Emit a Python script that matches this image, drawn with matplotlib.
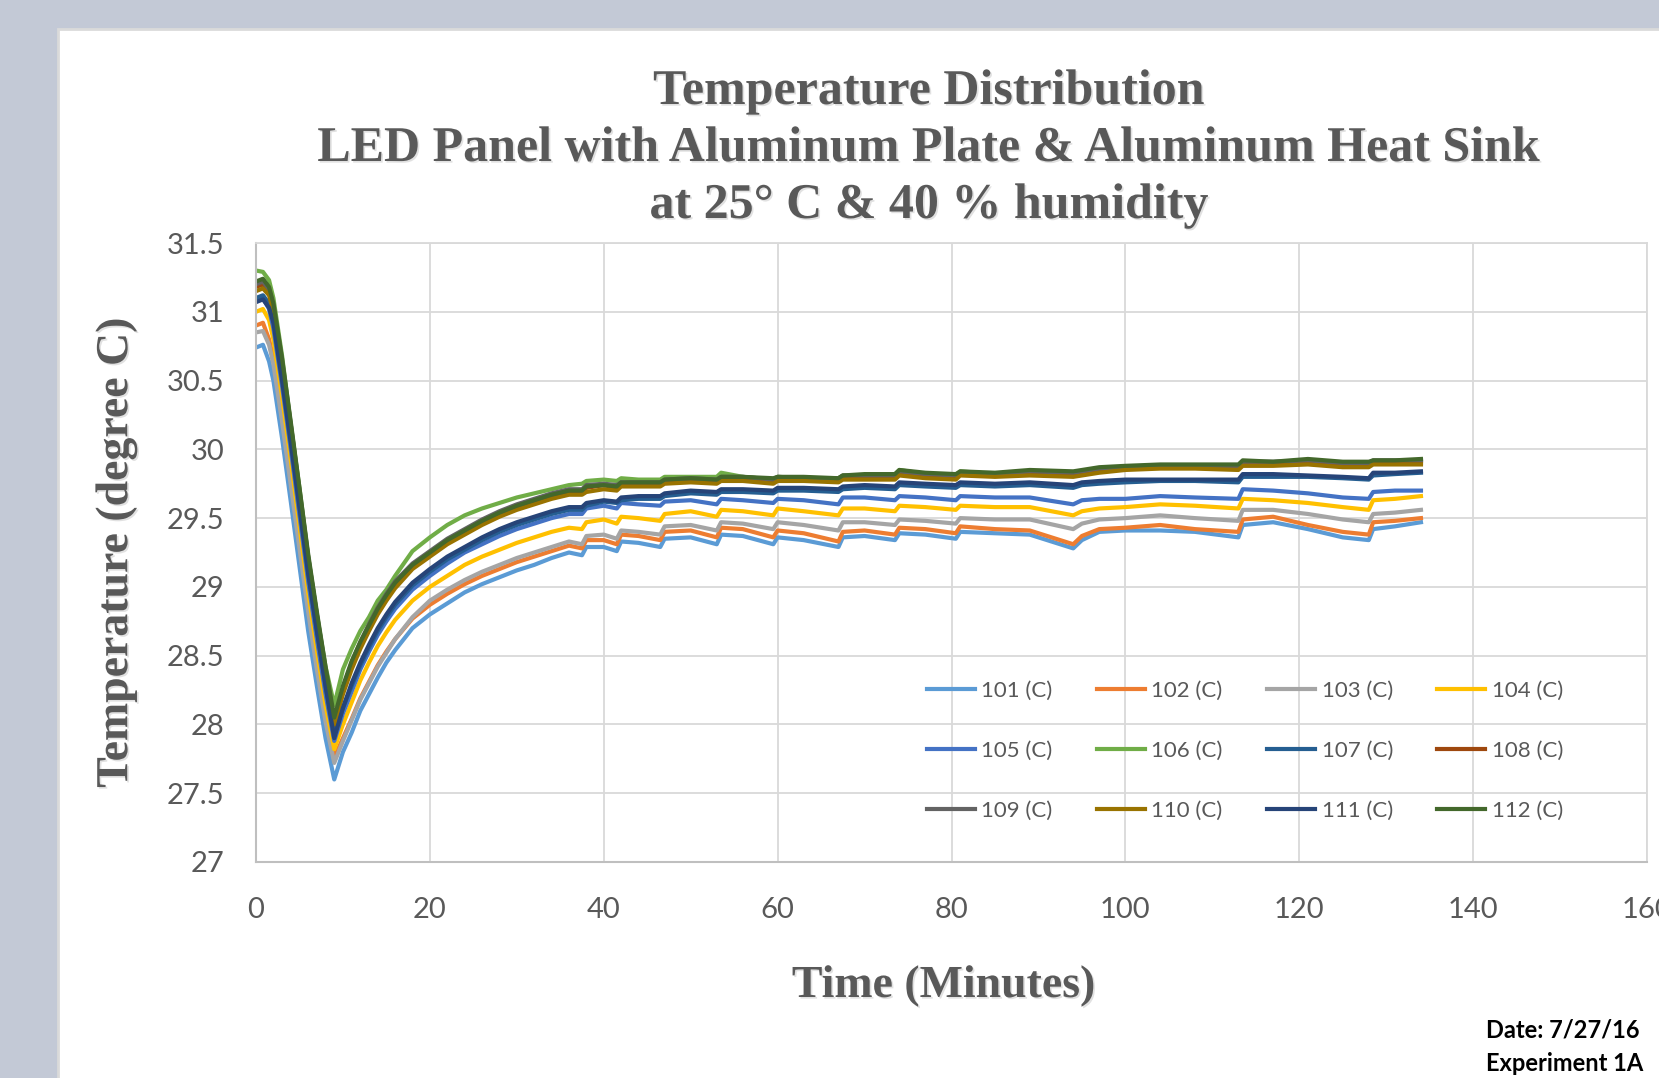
import matplotlib
matplotlib.use('Agg')
import matplotlib.pyplot as plt
from matplotlib.patches import Rectangle
import matplotlib.patheffects as pe

minutes = [0, 0.8, 1.5, 2, 3, 4, 5, 6, 7, 8,
           9, 10, 11, 12, 13, 14, 15, 16, 18, 20,
           22, 24, 26, 28, 30, 32, 34, 36, 37.5, 38,
           40, 41.5, 42, 44, 46.5, 47, 50, 53, 53.5, 56,
           59.5, 60, 63, 67, 67.5, 70, 73.5, 74, 77, 80.5,
           81, 85, 89, 94, 95, 97, 100, 104, 108, 113,
           113.5, 117, 121, 125, 128, 128.5, 131, 134]

s101 = [30.74, 30.76, 30.64, 30.50, 30.08, 29.62, 29.15, 28.68, 28.28, 27.90,
        27.60, 27.80, 27.94, 28.10, 28.22, 28.34, 28.45, 28.54, 28.70, 28.80,
        28.88, 28.96, 29.02, 29.07, 29.12, 29.16, 29.21, 29.25, 29.23, 29.29,
        29.29, 29.26, 29.33, 29.32, 29.29, 29.35, 29.36, 29.31, 29.38, 29.37,
        29.31, 29.36, 29.34, 29.29, 29.36, 29.37, 29.34, 29.39, 29.38, 29.35,
        29.40, 29.39, 29.38, 29.28, 29.34, 29.40, 29.41, 29.41, 29.40, 29.36,
        29.45, 29.47, 29.42, 29.36, 29.34, 29.42, 29.44, 29.47]
s102 = [30.90, 30.92, 30.80, 30.66, 30.24, 29.78, 29.32, 28.85, 28.44, 28.06,
        27.76, 27.90, 28.04, 28.19, 28.31, 28.43, 28.53, 28.62, 28.77, 28.87,
        28.95, 29.02, 29.08, 29.13, 29.18, 29.22, 29.26, 29.30, 29.28, 29.34,
        29.34, 29.31, 29.38, 29.37, 29.34, 29.40, 29.41, 29.36, 29.43, 29.42,
        29.36, 29.41, 29.39, 29.33, 29.40, 29.41, 29.38, 29.43, 29.42, 29.39,
        29.44, 29.42, 29.41, 29.31, 29.37, 29.42, 29.43, 29.45, 29.42, 29.40,
        29.49, 29.51, 29.45, 29.40, 29.38, 29.47, 29.48, 29.50]
s103 = [30.85, 30.86, 30.76, 30.62, 30.20, 29.74, 29.28, 28.82, 28.40, 28.02,
        27.72, 27.88, 28.03, 28.18, 28.30, 28.42, 28.52, 28.62, 28.78, 28.90,
        28.98, 29.05, 29.11, 29.16, 29.21, 29.25, 29.29, 29.33, 29.31, 29.37,
        29.38, 29.35, 29.41, 29.40, 29.38, 29.44, 29.45, 29.41, 29.47, 29.46,
        29.42, 29.47, 29.45, 29.41, 29.47, 29.47, 29.45, 29.49, 29.48, 29.46,
        29.50, 29.49, 29.49, 29.42, 29.46, 29.49, 29.50, 29.52, 29.50, 29.48,
        29.56, 29.56, 29.53, 29.49, 29.47, 29.53, 29.54, 29.56]
s104 = [31.00, 31.02, 30.94, 30.80, 30.38, 29.92, 29.44, 28.96, 28.54, 28.14,
        27.82, 28.00, 28.16, 28.32, 28.45, 28.57, 28.67, 28.76, 28.90, 29.00,
        29.08, 29.16, 29.22, 29.27, 29.32, 29.36, 29.40, 29.43, 29.42, 29.47,
        29.49, 29.46, 29.51, 29.50, 29.48, 29.53, 29.55, 29.51, 29.56, 29.55,
        29.52, 29.57, 29.55, 29.52, 29.57, 29.57, 29.55, 29.59, 29.58, 29.56,
        29.59, 29.58, 29.58, 29.52, 29.55, 29.57, 29.58, 29.60, 29.59, 29.57,
        29.64, 29.63, 29.61, 29.58, 29.56, 29.63, 29.64, 29.66]
s105 = [31.08, 31.10, 31.02, 30.88, 30.46, 30.00, 29.52, 29.04, 28.62, 28.22,
        27.88, 28.08, 28.24, 28.40, 28.53, 28.65, 28.75, 28.84, 28.98, 29.08,
        29.17, 29.25, 29.31, 29.37, 29.42, 29.46, 29.50, 29.53, 29.53, 29.57,
        29.59, 29.57, 29.61, 29.60, 29.59, 29.62, 29.63, 29.60, 29.64, 29.63,
        29.61, 29.64, 29.63, 29.60, 29.65, 29.65, 29.63, 29.66, 29.65, 29.63,
        29.66, 29.65, 29.65, 29.60, 29.63, 29.64, 29.64, 29.66, 29.65, 29.64,
        29.71, 29.70, 29.68, 29.65, 29.64, 29.69, 29.70, 29.70]
s106 = [31.30, 31.29, 31.23, 31.10, 30.68, 30.18, 29.72, 29.22, 28.80, 28.42,
        28.14, 28.40, 28.55, 28.68, 28.78, 28.90, 28.98, 29.08, 29.26, 29.36,
        29.45, 29.52, 29.57, 29.61, 29.65, 29.68, 29.71, 29.74, 29.75, 29.77,
        29.78, 29.77, 29.79, 29.78, 29.78, 29.80, 29.80, 29.80, 29.83, 29.80,
        29.78, 29.80, 29.79, 29.79, 29.81, 29.80, 29.82, 29.85, 29.82, 29.81,
        29.84, 29.82, 29.84, 29.83, 29.84, 29.85, 29.87, 29.88, 29.88, 29.88,
        29.90, 29.90, 29.91, 29.89, 29.89, 29.91, 29.91, 29.92]
s107 = [31.10, 31.12, 31.06, 30.94, 30.52, 30.06, 29.58, 29.10, 28.68, 28.28,
        27.93, 28.12, 28.28, 28.43, 28.56, 28.68, 28.78, 28.87, 29.01, 29.11,
        29.20, 29.27, 29.34, 29.40, 29.45, 29.49, 29.53, 29.56, 29.56, 29.59,
        29.62, 29.61, 29.63, 29.64, 29.64, 29.66, 29.68, 29.67, 29.69, 29.69,
        29.68, 29.70, 29.70, 29.69, 29.71, 29.72, 29.71, 29.74, 29.73, 29.72,
        29.74, 29.73, 29.74, 29.72, 29.74, 29.75, 29.76, 29.77, 29.77, 29.76,
        29.80, 29.80, 29.80, 29.79, 29.78, 29.81, 29.82, 29.83]
s108 = [31.18, 31.20, 31.14, 31.03, 30.62, 30.16, 29.68, 29.20, 28.78, 28.38,
        28.00, 28.24, 28.42, 28.57, 28.70, 28.82, 28.92, 29.01, 29.15, 29.24,
        29.33, 29.40, 29.47, 29.53, 29.58, 29.62, 29.66, 29.69, 29.69, 29.72,
        29.74, 29.72, 29.75, 29.75, 29.75, 29.77, 29.78, 29.77, 29.79, 29.79,
        29.77, 29.79, 29.78, 29.78, 29.80, 29.80, 29.80, 29.83, 29.81, 29.80,
        29.82, 29.81, 29.83, 29.82, 29.83, 29.85, 29.86, 29.87, 29.87, 29.86,
        29.89, 29.89, 29.90, 29.88, 29.88, 29.90, 29.90, 29.90]
s109 = [31.20, 31.22, 31.16, 31.05, 30.64, 30.18, 29.70, 29.22, 28.80, 28.40,
        28.02, 28.26, 28.45, 28.60, 28.73, 28.85, 28.95, 29.04, 29.17, 29.26,
        29.35, 29.42, 29.49, 29.55, 29.60, 29.64, 29.68, 29.71, 29.71, 29.74,
        29.75, 29.74, 29.76, 29.76, 29.76, 29.78, 29.79, 29.78, 29.80, 29.80,
        29.78, 29.80, 29.79, 29.79, 29.81, 29.81, 29.81, 29.84, 29.82, 29.81,
        29.83, 29.82, 29.84, 29.83, 29.84, 29.86, 29.87, 29.88, 29.88, 29.88,
        29.91, 29.91, 29.92, 29.90, 29.90, 29.92, 29.92, 29.92]
s110 = [31.15, 31.17, 31.12, 31.00, 30.60, 30.14, 29.66, 29.18, 28.76, 28.36,
        28.00, 28.22, 28.40, 28.55, 28.68, 28.80, 28.90, 28.99, 29.13, 29.22,
        29.31, 29.38, 29.45, 29.51, 29.56, 29.60, 29.64, 29.67, 29.67, 29.69,
        29.71, 29.70, 29.73, 29.73, 29.73, 29.75, 29.76, 29.75, 29.77, 29.77,
        29.75, 29.77, 29.77, 29.76, 29.78, 29.78, 29.78, 29.81, 29.79, 29.78,
        29.81, 29.80, 29.81, 29.80, 29.81, 29.83, 29.85, 29.86, 29.86, 29.85,
        29.88, 29.88, 29.89, 29.87, 29.87, 29.89, 29.89, 29.89]
s111 = [31.07, 31.09, 31.03, 30.92, 30.50, 30.05, 29.58, 29.10, 28.68, 28.28,
        27.90, 28.12, 28.30, 28.45, 28.58, 28.70, 28.80, 28.89, 29.03, 29.13,
        29.22, 29.29, 29.36, 29.42, 29.47, 29.51, 29.55, 29.58, 29.58, 29.61,
        29.63, 29.62, 29.65, 29.66, 29.66, 29.68, 29.70, 29.69, 29.71, 29.71,
        29.70, 29.72, 29.72, 29.71, 29.73, 29.74, 29.73, 29.76, 29.75, 29.74,
        29.76, 29.75, 29.76, 29.74, 29.76, 29.77, 29.78, 29.78, 29.78, 29.78,
        29.82, 29.82, 29.81, 29.80, 29.79, 29.83, 29.83, 29.84]
s112 = [31.22, 31.24, 31.18, 31.06, 30.66, 30.20, 29.72, 29.24, 28.82, 28.42,
        28.05, 28.28, 28.46, 28.60, 28.72, 28.84, 28.94, 29.03, 29.16, 29.25,
        29.34, 29.41, 29.48, 29.54, 29.59, 29.63, 29.67, 29.70, 29.70, 29.73,
        29.74, 29.73, 29.76, 29.76, 29.76, 29.78, 29.79, 29.78, 29.80, 29.80,
        29.79, 29.80, 29.80, 29.79, 29.81, 29.82, 29.82, 29.85, 29.83, 29.82,
        29.84, 29.83, 29.85, 29.84, 29.85, 29.87, 29.88, 29.89, 29.89, 29.89,
        29.92, 29.91, 29.93, 29.91, 29.91, 29.92, 29.92, 29.93]

series_values = [s101, s102, s103, s104, s105, s106, s107, s108, s109, s110, s111, s112]
series_labels = ['101 (C)', '102 (C)', '103 (C)', '104 (C)', '105 (C)', '106 (C)',
                 '107 (C)', '108 (C)', '109 (C)', '110 (C)', '111 (C)', '112 (C)']
series_colors = ['#5B9BD5', '#ED7D31', '#A5A5A5', '#FFC000', '#4472C4', '#70AD47',
                 '#255E91', '#9E480E', '#636363', '#997300', '#264478', '#43682B']

x_ticks = [0, 20, 40, 60, 80, 100, 120, 140, 160]
y_ticks = [27, 27.5, 28, 28.5, 29, 29.5, 30, 30.5, 31, 31.5]
y_tick_labels = ['27', '27.5', '28', '28.5', '29', '29.5', '30', '30.5', '31', '31.5']

title_lines = ['Temperature Distribution',
               'LED Panel with Aluminum Plate & Aluminum Heat Sink',
               'at 25\u00b0 C & 40 % humidity']

W, H = 1659, 1078
fig = plt.figure(figsize=(W / 100, H / 100), dpi=100)
fig.patch.set_facecolor('#C3C9D6')
panel = Rectangle((58 / W, -0.01), 1.0, 1 - 29 / H + 0.01,
                  transform=fig.transFigure, facecolor='white',
                  edgecolor='#DADADA', linewidth=2, zorder=-10)
fig.patches.append(panel)

ax = fig.add_axes([256 / W, 216 / H, (1647 - 256) / W, (862 - 243) / H])
ax.set_facecolor('white')
ax.set_zorder(1)

handles = []
for vals, lab, col in zip(series_values, series_labels, series_colors):
    ln, = ax.plot(minutes, vals, color=col, lw=3.0, label=lab, solid_joinstyle='round')
    handles.append(ln)

ax.set_xlim(0, 160)
ax.set_ylim(27, 31.5)
ax.set_xticks(x_ticks)
ax.set_yticks(y_ticks)
ax.set_yticklabels(y_tick_labels)
ax.grid(True, color='#D9D9D9', lw=1.3)
ax.set_axisbelow(True)
for side in ['top', 'right']:
    ax.spines[side].set_color('#D9D9D9')
    ax.spines[side].set_linewidth(1.3)
for side in ['left', 'bottom']:
    ax.spines[side].set_color('#BFBFBF')
    ax.spines[side].set_linewidth(1.5)
ax.tick_params(axis='both', length=0, labelcolor='#595959', labelsize=21)
ax.tick_params(axis='x', pad=25)
ax.tick_params(axis='y', pad=23)
for lbl in ax.get_xticklabels() + ax.get_yticklabels():
    lbl.set_fontfamily('Lato')

shadow = [pe.withSimplePatchShadow(offset=(1.2, -1.2), shadow_rgbFace='#AAAAAA', alpha=0.35)]
title_y = [104, 161, 218]
for line, yy in zip(title_lines, title_y):
    fig.text(929 / W, 1 - yy / H, line, ha='center', va='baseline',
             fontfamily='Liberation Serif', fontweight='bold', fontsize=36,
             color='#595959', path_effects=shadow)

fig.text(116 / W, 1 - 552 / H, 'Temperature (degree C)', rotation=90,
         ha='center', va='center', fontfamily='Liberation Serif', fontweight='bold',
         fontsize=33, color='#595959', path_effects=shadow)
fig.text(944 / W, 1 - 997 / H, 'Time (Minutes)', ha='center', va='baseline',
         fontfamily='Liberation Serif', fontweight='bold', fontsize=33,
         color='#595959', path_effects=shadow)

fig.text(1486 / W, 1 - 1038 / H, 'Date: 7/27/16', ha='left', va='baseline',
         fontfamily='Lato', fontweight='bold', fontsize=17, color='black')
fig.text(1486 / W, 1 - 1071 / H, 'Experiment 1A', ha='left', va='baseline',
         fontfamily='Lato', fontweight='bold', fontsize=17, color='black')

# legend fills column-wise; reorder so entries read row-wise like the reference
ncol, nrow = 4, 3
order = [r * ncol + c for c in range(ncol) for r in range(nrow)]
leg = ax.legend([handles[i] for i in order], [series_labels[i] for i in order],
                loc='center', bbox_to_anchor=(1245 / W, 1 - 751 / H),
                bbox_transform=fig.transFigure, ncol=ncol, frameon=False,
                prop={'family': 'Lato', 'size': 16}, labelcolor='#595959',
                handlelength=2.15, handletextpad=0.3, columnspacing=2.0,
                labelspacing=1.8)
for h in leg.get_lines():
    h.set_linewidth(3)

fig.savefig('out.png', dpi=100, facecolor=fig.get_facecolor())
